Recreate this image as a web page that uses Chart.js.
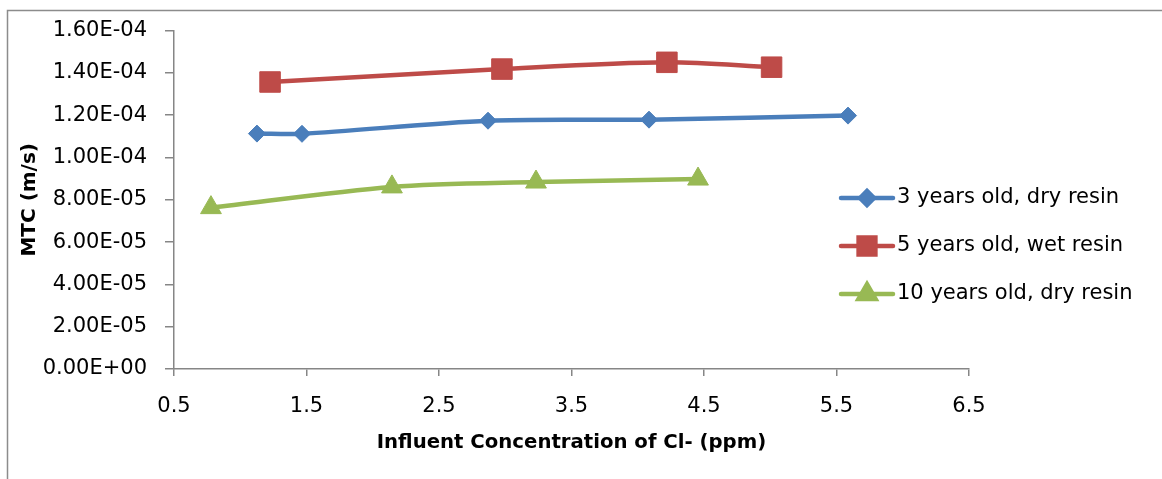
<!DOCTYPE html>
<html>
<head>
<meta charset="utf-8">
<script src="https://cdn.jsdelivr.net/npm/chart.js@4/dist/chart.umd.min.js"></script>
<style>
  html, body { margin: 0; padding: 0; background: #fff; }
  canvas { display: block; }
</style>
</head>
<body>
<canvas id="c" width="1162" height="479"></canvas>
<script>
// ---- Data ----
const seriesNames = ['3 years old, dry resin', '5 years old, wet resin', '10 years old, dry resin'];
const x3yrDry = [1.126, 1.466, 2.87, 4.085, 5.587];
const y3yrDry = [1.113e-4, 1.112e-4, 1.174e-4, 1.179e-4, 1.198e-4];
const x5yrWet = [1.225, 2.975, 4.22, 5.01];
const y5yrWet = [1.357e-4, 1.418e-4, 1.450e-4, 1.427e-4];
const x10yrDry = [0.779, 2.145, 3.232, 4.455];
const y10yrDry = [7.63e-5, 8.61e-5, 8.84e-5, 8.98e-5];
const xTicks = [0.5, 1.5, 2.5, 3.5, 4.5, 5.5, 6.5];
const yTicks = [0, 2e-5, 4e-5, 6e-5, 8e-5, 1.0e-4, 1.2e-4, 1.4e-4, 1.6e-4];
const xTitle = 'Influent Concentration of Cl- (ppm)';
const yTitle = 'MTC (m/s)';

const colors = ['#4A7EBB', '#BE4B48', '#98B954'];
const pointStyles = ['rectRot', 'rect', 'triangle'];
const pointRadii = [8.5, 14.5, 12];

function pts(xs, ys) { return xs.map((x, i) => ({ x: x, y: ys[i] })); }
function fmtE(v) {
  if (Math.abs(v) < 1e-12) return '0.00E+00';
  const s = v.toExponential(2);
  const parts = s.split('e');
  const sign = parts[1][0] === '-' ? '-' : '+';
  let d = parts[1].replace(/[+-]/, '');
  if (d.length < 2) d = '0' + d;
  return parts[0] + 'E' + sign + d;
}

const FONT = 'DejaVu Sans';
const AXIS_GRAY = '#868686';

const frameAndLegend = {
  id: 'frameAndLegend',
  beforeDraw(chart) {
    const ctx = chart.ctx;
    ctx.save();
    ctx.fillStyle = '#fff';
    ctx.fillRect(0, 0, chart.width, chart.height);
    ctx.strokeStyle = '#8c8c8c';
    ctx.lineWidth = 1.5;
    ctx.beginPath();
    ctx.moveTo(7.5, chart.height);
    ctx.lineTo(7.5, 10.5);
    ctx.lineTo(chart.width, 10.5);
    ctx.stroke();
    ctx.restore();
  },
  afterDraw(chart) {
    const ctx = chart.ctx;
    ctx.save();
    const rows = [198, 246, 294];
    chart.data.datasets.forEach((ds, i) => {
      const y = rows[i];
      ctx.strokeStyle = ds.borderColor;
      ctx.lineWidth = 4.5;
      ctx.lineCap = 'round';
      ctx.beginPath();
      ctx.moveTo(841, y);
      ctx.lineTo(893, y);
      ctx.stroke();
      Chart.helpers.drawPoint(ctx, {
        pointStyle: ds.pointStyle,
        radius: ds.pointRadius * 0.82,
        borderWidth: 1
      }, 867, y);
      ctx.fillStyle = ds.borderColor;
      ctx.fill();
      ctx.fillStyle = '#000';
      ctx.font = '21px "' + FONT + '"';
      ctx.textAlign = 'left';
      ctx.textBaseline = 'middle';
      ctx.fillText(ds.label, 897, y);
    });
    ctx.restore();
  }
};

const datasets = [
  [x3yrDry, y3yrDry],
  [x5yrWet, y5yrWet],
  [x10yrDry, y10yrDry]
].map((p, i) => ({
  label: seriesNames[i],
  data: pts(p[0], p[1]),
  borderColor: colors[i],
  backgroundColor: colors[i],
  borderWidth: 4.5,
  pointStyle: pointStyles[i],
  pointRadius: pointRadii[i],
  pointHoverRadius: pointRadii[i],
  pointBorderWidth: 1,
  pointBorderColor: colors[i],
  pointBackgroundColor: colors[i],
  tension: 0.3,
  showLine: true,
  fill: false
}));

new Chart(document.getElementById('c'), {
  type: 'scatter',
  data: { datasets: datasets },
  plugins: [frameAndLegend],
  options: {
    responsive: false,
    devicePixelRatio: 1,
    animation: false,
    layout: { padding: { top: 27, right: 193, bottom: 0, left: 0 } },
    plugins: { legend: { display: false }, tooltip: { enabled: false } },
    scales: {
      x: {
        type: 'linear',
        min: 0.5, max: 6.5,
        afterBuildTicks(scale) { scale.ticks = xTicks.map(v => ({ value: v })); },
        afterFit(scale) { scale.height = 110; },
        border: { display: true, color: AXIS_GRAY, width: 1.5 },
        grid: { drawOnChartArea: false, drawTicks: true, tickLength: 7, color: AXIS_GRAY, lineWidth: 1.5 },
        ticks: {
          padding: 18,
          color: '#000',
          font: { family: FONT, size: 21 },
          callback: (v) => String(v),
          maxRotation: 0, autoSkip: false
        },
        title: {
          display: true, text: xTitle, color: '#000',
          font: { family: FONT, size: 19.7, weight: 'bold' },
          padding: { top: 0, bottom: 24 }
        }
      },
      y: {
        type: 'linear',
        min: 0, max: 1.6e-4,
        afterBuildTicks(scale) { scale.ticks = yTicks.map(v => ({ value: v })); },
        afterFit(scale) { scale.width = 174; },
        border: { display: true, color: AXIS_GRAY, width: 1.5 },
        grid: { drawOnChartArea: false, drawTicks: true, tickLength: 9, color: AXIS_GRAY, lineWidth: 1.5 },
        ticks: {
          padding: 18,
          color: '#000',
          font: { family: FONT, size: 21 },
          callback: (v) => fmtE(v),
          autoSkip: false
        },
        title: {
          display: true, text: yTitle, color: '#000',
          font: { family: FONT, size: 20, weight: 'bold' },
          padding: { top: 18, bottom: 0 }
        }
      }
    }
  }
});
</script>
</body>
</html>
